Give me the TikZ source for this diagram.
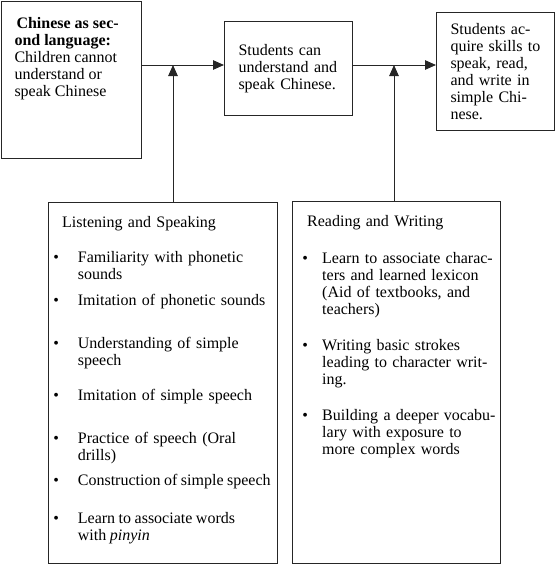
\documentclass[tikz,border=0pt]{standalone}
\usepackage{fontspec}
\setmainfont{Liberation Serif}
\usepackage{tikz}
\usetikzlibrary{arrows.meta}

\newlength{\bind}
\newcommand{\bitem}[2]{\par\vspace{#1}\noindent\hangindent=\bind\hangafter=1\makebox[\bind][l]{\textbullet}#2\par}

\begin{document}
\begin{tikzpicture}[x=1pt,y=1pt,
	box/.style={draw=black!85, line width=1pt, inner sep=0pt, anchor=north west},
	txt/.style={inner sep=0pt, align=left, font=\fontsize{16}{17}\selectfont},
	>={Triangle[length=11pt,width=9.5pt]}]
		\useasboundingbox (0,0) rectangle (555,-565);
		
		\node[box, minimum width=140pt, minimum height=157pt] (start) at (0.8,-0.8) {};
		\node[txt, anchor=north west] (starttxt) at (14.3,-17.5) {\hspace*{2pt}\textbf{Chinese as sec-}\\\textbf{ond language:}\\Children cannot\\understand or\\speak Chinese};
		
		\node[box, txt, minimum width=128pt, minimum height=94pt, text width=100pt, inner xsep=14pt] (mid) at (224,-21) {Students can\\understand and\\speak Chinese.};
		
		\node[box, txt, minimum width=118pt, minimum height=118pt, text width=90pt, inner xsep=14pt] (goal) at (436,-12) {Students ac-\\quire skills to\\speak, read,\\and write in\\simple Chi-\\nese.};
		
		% lists
		\node[box, minimum width=229pt, minimum height=361pt] (listen) at (48,-202) {};
		\node[txt, anchor=north west, text width=228pt] (listentxt) at (53.2,-216) {\setlength{\bind}{24.5pt}%
			\hspace*{8.8pt}Listening and Speaking\par\vspace{18pt}
			\bitem{0pt}{Familiarity with phonetic\newline sounds}
			\bitem{9pt}{Imitation of phonetic sounds}
			\bitem{26pt}{Understanding of simple\newline speech}
			\bitem{18pt}{Imitation of simple speech}
			\bitem{26pt}{Practice of speech (Oral\newline drills)}
			\bitem{8pt}{\spaceskip=0.22em Construction of simple speech}
			\bitem{21pt}{Learn to associate words\newline with \textit{pinyin}}};
		
		\node[box, minimum width=208pt, minimum height=362pt] (read) at (292,-201) {};
		\node[txt, anchor=north west, text width=200pt] (readtxt) at (302.2,-215) {\setlength{\bind}{19.8pt}%
			\hspace*{4.8pt}Reading and Writing\par\vspace{20pt}
			\bitem{0pt}{Learn to associate charac-\newline ters and learned lexicon\newline (Aid of textbooks, and\newline teachers)}
			\bitem{19pt}{Writing basic strokes\newline leading to character writ-\newline ing.}
			\bitem{19pt}{Building a deeper vocabu-\newline lary with exposure to\newline more complex words}};
		
		\coordinate (j1) at (173,-65);
		\coordinate (j2) at (394,-65);
		\draw[->, line width=1pt, black!85] (start.east |- j1) -- (mid.west |- j1);
		\draw[->, line width=1pt, black!85] (mid.east |- j2) -- (goal.west |- j2);
		\draw[->, line width=1pt, black!85] (listen.north -| j1) -- (j1);
		\draw[->, line width=1pt, black!85] (read.north -| j2) -- (j2);
	\end{tikzpicture}
\end{document}
